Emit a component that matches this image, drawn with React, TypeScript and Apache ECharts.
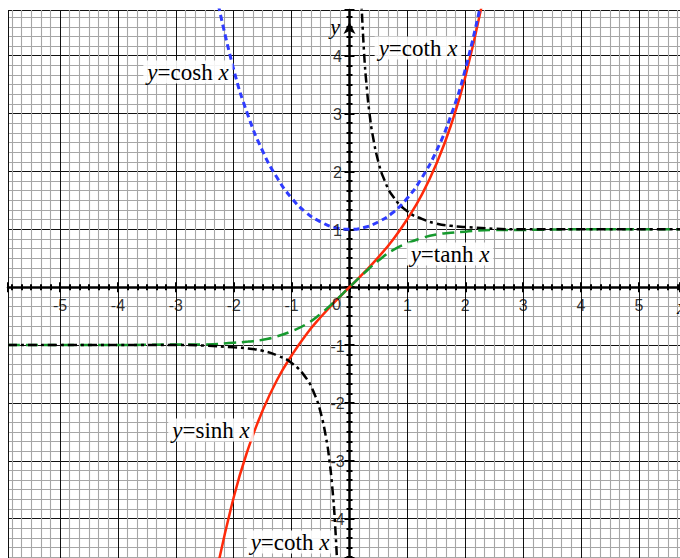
import { useEffect, useRef } from "react";
import * as echarts from "echarts";

// Visible window of the graph paper
const X_MIN = -5.9;
const X_MAX = 5.71;
const Y_MIN = -4.68;
const Y_MAX = 4.79;

// Tick labels printed along the axes (zero is printed once, at the origin)
const xTickLabels = ["-5", "-4", "-3", "-2", "-1", "1", "2", "3", "4", "5"];
const yTickLabels = ["-4", "-3", "-2", "-1", "1", "2", "3", "4"];
const originLabel = "0";

// y = sinh x
const sinhPoints: [number, number][] = [
  [-2.3, -4.94], [-2.0, -3.63], [-1.75, -2.79], [-1.5, -2.13], [-1.25, -1.6],
  [-1.0, -1.18], [-0.75, -0.82], [-0.5, -0.52], [-0.25, -0.25], [0, 0],
  [0.25, 0.25], [0.5, 0.52], [0.75, 0.82], [1.0, 1.18], [1.25, 1.6],
  [1.5, 2.13], [1.75, 2.79], [2.0, 3.63], [2.3, 4.94],
];

// y = cosh x
const coshPoints: [number, number][] = [
  [-2.3, 5.04], [-2.0, 3.76], [-1.75, 2.96], [-1.5, 2.35], [-1.25, 1.89],
  [-1.0, 1.54], [-0.75, 1.29], [-0.5, 1.13], [-0.25, 1.03], [0, 1.0],
  [0.25, 1.03], [0.5, 1.13], [0.75, 1.29], [1.0, 1.54], [1.25, 1.89],
  [1.5, 2.35], [1.75, 2.96], [2.0, 3.76], [2.3, 5.04],
];

// y = tanh x
const tanhPoints: [number, number][] = [
  [-5.9, -1.0], [-4.0, -1.0], [-3.0, -0.99], [-2.5, -0.99], [-2.0, -0.96],
  [-1.75, -0.94], [-1.5, -0.91], [-1.25, -0.85], [-1.0, -0.76], [-0.75, -0.64],
  [-0.5, -0.46], [-0.25, -0.24], [0, 0], [0.25, 0.24], [0.5, 0.46],
  [0.75, 0.64], [1.0, 0.76], [1.25, 0.85], [1.5, 0.91], [1.75, 0.94],
  [2.0, 0.96], [2.5, 0.99], [3.0, 0.99], [4.0, 1.0], [5.71, 1.0],
];

// y = coth x, right branch
const cothRight: [number, number][] = [
  [0.2, 5.07], [0.25, 4.08], [0.3, 3.43], [0.35, 2.97], [0.4, 2.63],
  [0.5, 2.16], [0.6, 1.86], [0.75, 1.57], [1.0, 1.31], [1.25, 1.18],
  [1.5, 1.1], [1.75, 1.06], [2.0, 1.04], [2.5, 1.01], [3.0, 1.0],
  [4.0, 1.0], [5.71, 1.0],
];

// y = coth x, left branch
const cothLeft: [number, number][] = [
  [-5.9, -1.0], [-4.0, -1.0], [-3.0, -1.0], [-2.5, -1.01], [-2.0, -1.04],
  [-1.75, -1.06], [-1.5, -1.1], [-1.25, -1.18], [-1.0, -1.31], [-0.75, -1.57],
  [-0.6, -1.86], [-0.5, -2.16], [-0.4, -2.63], [-0.35, -2.97], [-0.3, -3.43],
  [-0.25, -4.08], [-0.2, -5.07],
];

const SANS = "'Liberation Sans', Arial, Helvetica, sans-serif";
const SERIF = "'Liberation Serif', 'Times New Roman', Times, serif";

export default function App() {
  const ref = useRef<HTMLDivElement>(null);

  useEffect(() => {
    if (!ref.current) return;
    const chart = echarts.init(ref.current, null, { renderer: "svg" });

    const tickStyle = { color: "#000", width: 2 };
    const axisText = {
      fontFamily: SANS,
      fontSize: 16,
      color: "#000",
      textBorderWidth: 0,
      textBorderColor: "transparent",
      textShadowBlur: 0,
    };

    const baseX = {
      type: "value" as const,
      min: X_MIN,
      max: X_MAX,
      splitNumber: 12,
      axisLabel: { show: false },
    };
    const baseY = {
      type: "value" as const,
      min: Y_MIN,
      max: Y_MAX,
      splitNumber: 10,
      axisLabel: { show: false },
    };

    const fnLabel = (text: string, x: number, y: number) => ({
      type: "text",
      x,
      y,
      z: 100,
      style: {
        text,
        rich: { i: { fontStyle: "italic", fontFamily: SERIF, fontSize: 23, fill: "#000" } },
        fontFamily: SERIF,
        fontSize: 23,
        fill: "#000",
        backgroundColor: "rgba(255,255,255,0.88)",
        padding: [0, 4, 0, 4],
        textAlign: "center",
        textVerticalAlign: "middle",
        align: "center",
        verticalAlign: "middle",
      },
    });

    const curve = (name: string, data: [number, number][], color: string, width: number, dash: number[] | "solid", z: number) => ({
      name,
      type: "line",
      data,
      smooth: true,
      showSymbol: false,
      symbol: "none",
      z,
      lineStyle: { color, width, type: dash },
      clip: true,
    });

    // Tick labels placed at their axis positions through the value scales
    const tickLabels = (name: string, data: [number, number][], offset: [number, number]) => ({
      name,
      type: "scatter",
      data,
      symbolSize: 1,
      itemStyle: { color: "transparent" },
      silent: true,
      z: 7,
      clip: false,
      label: {
        show: true,
        position: "inside",
        offset,
        formatter: (p: any) => p.name,
        ...axisText,
      },
    });

    chart.setOption({
      animation: false,
      backgroundColor: "#fff",
      grid: { left: 8, top: 10, right: 0, bottom: 0, containLabel: false, outerBoundsMode: "none" },
      xAxis: [
        {
          ...baseX,
          position: "bottom",
          axisLine: { onZero: true, onZeroAxisIndex: 0, lineStyle: { color: "#000", width: 2.5 } },
          axisTick: { show: true, length: 5, lineStyle: tickStyle },
          minorTick: { show: true, splitNumber: 6, length: 3, lineStyle: tickStyle },
          splitLine: { show: true, lineStyle: { color: "#111", width: 1 } },
          minorSplitLine: { show: true, lineStyle: { color: "#a6a6a6", width: 1.1 } },
        },
        {
          ...baseX,
          position: "top",
          axisLine: { show: false, onZero: true, onZeroAxisIndex: 1 },
          axisTick: { show: true, length: 5, lineStyle: tickStyle },
          minorTick: { show: true, splitNumber: 6, length: 3, lineStyle: tickStyle },
          splitLine: { show: false },
          minorSplitLine: { show: false },
        },
      ],
      yAxis: [
        {
          ...baseY,
          position: "left",
          axisLine: {
            onZero: true,
            onZeroAxisIndex: 0,
            lineStyle: { color: "#000", width: 2.5 },
            symbol: ["none", "arrow"],
            symbolSize: [9, 12],
            symbolOffset: [0, -12],
          },
          axisTick: { show: true, length: 5, lineStyle: tickStyle },
          minorTick: { show: true, splitNumber: 6, length: 3, lineStyle: tickStyle },
          splitLine: { show: true, lineStyle: { color: "#111", width: 1 } },
          minorSplitLine: { show: true, lineStyle: { color: "#a6a6a6", width: 1.1 } },
        },
        {
          ...baseY,
          position: "right",
          axisLine: { show: false, onZero: true, onZeroAxisIndex: 1 },
          axisTick: { show: true, length: 5, lineStyle: tickStyle },
          minorTick: { show: true, splitNumber: 6, length: 3, lineStyle: tickStyle },
          splitLine: { show: false },
          minorSplitLine: { show: false },
        },
      ],
      series: [
        curve("sinh", sinhPoints, "#ff2a0a", 2.5, "solid", 3),
        curve("tanh", tanhPoints, "#16992e", 2.5, [12, 6], 4),
        curve("coth", cothRight, "#000", 2.5, [9, 4, 3, 4], 5),
        curve("coth-left", cothLeft, "#000", 2.5, [9, 4, 3, 4], 5),
        curve("cosh", coshPoints, "#2f3cff", 3, [6, 4], 6),
        tickLabels(
          "x-labels",
          xTickLabels.map((s) => ({ name: s, value: [Number(s), 0] })) as any,
          [0, 18]
        ),
        tickLabels(
          "y-labels",
          yTickLabels.map((s) => ({ name: s, value: [0, Number(s)] })) as any,
          [-12, 1]
        ),
        tickLabels("origin", [{ name: originLabel, value: [0, 0] }] as any, [-13, 17]),
      ],
      graphic: [
        fnLabel("{i|y}=cosh {i|x}", 188, 72),
        fnLabel("{i|y}=coth {i|x}", 418, 48),
        fnLabel("{i|y}=tanh {i|x}", 450, 254),
        fnLabel("{i|y}=sinh {i|x}", 211, 430),
        fnLabel("{i|y}=coth {i|x}", 290, 542),
        {
          type: "text",
          x: 335,
          y: 26,
          z: 100,
          style: {
            text: "y",
            fontFamily: SERIF,
            fontStyle: "italic",
            fontSize: 22,
            fill: "#000",
            textAlign: "center",
            textVerticalAlign: "middle",
            align: "center",
            verticalAlign: "middle",
          },
        },
        {
          type: "text",
          x: 677,
          y: 306,
          z: 100,
          style: {
            text: "x",
            fontFamily: SERIF,
            fontStyle: "italic",
            fontSize: 22,
            fill: "#000",
            textAlign: "left",
            textVerticalAlign: "middle",
            align: "left",
            verticalAlign: "middle",
          },
        },
      ],
    });

    return () => chart.dispose();
  }, []);

  return (
    <div
      ref={ref}
      style={{ position: "absolute", left: 0, top: 0, width: 680, height: 558, background: "#fff" }}
    />
  );
}
